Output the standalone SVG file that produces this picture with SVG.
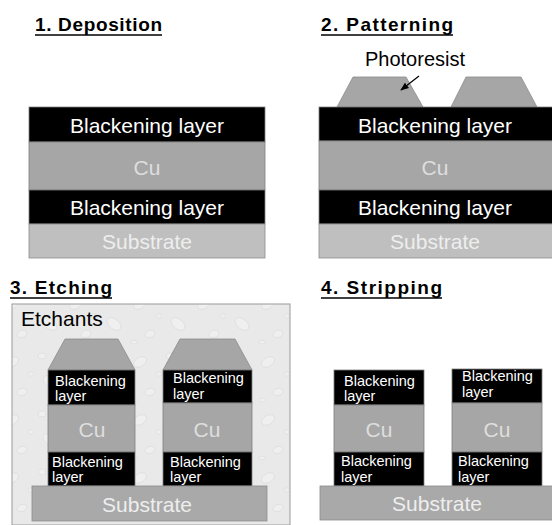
<svg xmlns="http://www.w3.org/2000/svg" width="552" height="525" viewBox="0 0 552 525">
  <style>
    .title { font-family: "Liberation Sans", Arial, sans-serif; font-size: 19px; font-weight: bold; fill: #000; }
    .lbl { font-family: "Liberation Sans", Arial, sans-serif; font-size: 21px; }
    .sm { font-family: "Liberation Sans", Arial, sans-serif; font-size: 14.5px; fill: #fff; }
    .blk { fill: #000; stroke: #7f7f7f; stroke-width: 0.8; }
    .cu { fill: #a6a6a6; stroke: #7f7f7f; stroke-width: 0.8; }
    .sub { fill: #bfbfbf; stroke: #8c8c8c; stroke-width: 0.8; }
    .sub2 { fill: #a9a9a9; stroke: #8c8c8c; stroke-width: 0.8; }
    .pr { fill: #a6a6a6; stroke: #8c8c8c; stroke-width: 0.8; }
    .ul { stroke: #000; stroke-width: 1.5; }
    .w { fill: #fff; }
    .cut { fill: #dedede; }
    .st { fill: #eeeeee; }
    .drop { fill: #efefef; stroke: #d9d9d9; stroke-width: 0.6; }
  </style>
  <defs>
    <marker id="arrow" viewBox="0 0 10 10" refX="9" refY="5" markerWidth="7" markerHeight="7" orient="auto">
      <path d="M0,1 L10,5 L0,9 z" fill="#000"/>
    </marker>
    <!-- droplet texture for the etchant bath -->
    <pattern id="drops" width="64" height="58" patternUnits="userSpaceOnUse">
      <rect width="64" height="58" fill="#e9e9e9"/>
      <ellipse class="drop" cx="12" cy="14" rx="7" ry="4.5" transform="rotate(-30 12 14)"/>
      <ellipse class="drop" cx="42" cy="8" rx="4" ry="3"/>
      <ellipse class="drop" cx="50" cy="34" rx="8" ry="5" transform="rotate(40 50 34)"/>
      <ellipse class="drop" cx="22" cy="44" rx="5" ry="3.5" transform="rotate(-20 22 44)"/>
      <ellipse class="drop" cx="6" cy="52" rx="3" ry="2"/>
      <ellipse class="drop" cx="31" cy="26" rx="3" ry="2.2"/>
    </pattern>
  </defs>

  <!-- 1. Deposition -->
  <g id="step1">
    <text class="title" x="35" y="31" textLength="127" lengthAdjust="spacing">1. Deposition</text>
    <line class="ul" x1="35" y1="35" x2="162" y2="35"/>
    <rect class="blk" x="29" y="107" width="236" height="35"/>
    <rect class="cu" x="29" y="142" width="236" height="48"/>
    <rect class="blk" x="29" y="190" width="236" height="34"/>
    <rect class="sub" x="29" y="224" width="236" height="34"/>
    <text class="lbl w" x="147" y="133" text-anchor="middle">Blackening layer</text>
    <text class="lbl cut" x="147" y="175" text-anchor="middle">Cu</text>
    <text class="lbl w" x="147" y="215" text-anchor="middle">Blackening layer</text>
    <text class="lbl st" x="147" y="249" text-anchor="middle">Substrate</text>
  </g>

  <!-- 2. Patterning -->
  <g id="step2">
    <text class="title" x="321" y="31" textLength="132" lengthAdjust="spacing">2. Patterning</text>
    <line class="ul" x1="321" y1="35" x2="453" y2="35"/>
    <polygon class="pr" points="337,107 353,77 406,77 423,107"/>
    <polygon class="pr" points="451,107 466,77 521,77 537,107"/>
    <rect class="blk" x="319" y="107" width="234" height="34"/>
    <rect class="cu" x="319" y="141" width="234" height="49"/>
    <rect class="blk" x="319" y="190" width="234" height="34"/>
    <rect class="sub" x="319" y="224" width="234" height="34"/>
    <text class="lbl" x="415" y="66" text-anchor="middle" fill="#000" style="font-size:20px">Photoresist</text>
    <text class="lbl w" x="435" y="133" text-anchor="middle">Blackening layer</text>
    <text class="lbl cut" x="435" y="175" text-anchor="middle">Cu</text>
    <text class="lbl w" x="435" y="215" text-anchor="middle">Blackening layer</text>
    <text class="lbl st" x="435" y="249" text-anchor="middle">Substrate</text>
  </g>

  <!-- 3. Etching -->
  <g id="step3">
    <text class="title" x="10" y="294" textLength="102" lengthAdjust="spacing">3. Etching</text>
    <line class="ul" x1="10" y1="298" x2="112" y2="298"/>
    <rect x="12" y="304" width="278" height="221" fill="url(#drops)" stroke="#9a9a9a" stroke-width="1"/>
    <text class="lbl" x="21" y="326" fill="#000">Etchants</text>
    <!-- left pillar -->
    <polygon class="pr" points="48,370 65,339 118,339 135,370"/>
    <rect class="blk" x="48" y="370" width="87" height="35"/>
    <rect class="cu" x="48" y="405" width="87" height="47"/>
    <rect class="blk" x="48" y="452" width="87" height="34"/>
    <!-- right pillar -->
    <polygon class="pr" points="163,370 180,339 235,339 252,370"/>
    <rect class="blk" x="163" y="370" width="89" height="33"/>
    <rect class="cu" x="163" y="403" width="89" height="49"/>
    <rect class="blk" x="163" y="452" width="89" height="34"/>
    <rect class="sub2" x="32" y="486" width="235" height="35"/>
    <text class="sm" x="55" y="386">Blackening</text>
    <text class="sm" x="55" y="401">layer</text>
    <text class="lbl cut" x="92" y="437" text-anchor="middle">Cu</text>
    <text class="sm" x="52" y="467">Blackening</text>
    <text class="sm" x="52" y="482">layer</text>
    <text class="sm" x="173" y="383">Blackening</text>
    <text class="sm" x="173" y="399">layer</text>
    <text class="lbl cut" x="207" y="437" text-anchor="middle">Cu</text>
    <text class="sm" x="170" y="467">Blackening</text>
    <text class="sm" x="170" y="482">layer</text>
    <text class="lbl st" x="147" y="512" text-anchor="middle">Substrate</text>
  </g>

  <!-- 4. Stripping -->
  <g id="step4">
    <text class="title" x="321" y="294" textLength="121" lengthAdjust="spacing">4. Stripping</text>
    <line class="ul" x1="321" y1="298" x2="442" y2="298"/>
    <rect class="blk" x="334" y="370" width="90" height="35"/>
    <rect class="cu" x="334" y="405" width="90" height="47"/>
    <rect class="blk" x="334" y="452" width="90" height="34"/>
    <rect class="blk" x="452" y="369" width="90" height="34"/>
    <rect class="cu" x="452" y="403" width="90" height="49"/>
    <rect class="blk" x="452" y="452" width="90" height="34"/>
    <rect class="sub2" x="320" y="486" width="233" height="34"/>
    <text class="sm" x="344" y="386">Blackening</text>
    <text class="sm" x="344" y="401">layer</text>
    <text class="lbl cut" x="379" y="437" text-anchor="middle">Cu</text>
    <text class="sm" x="341" y="466">Blackening</text>
    <text class="sm" x="341" y="482">layer</text>
    <text class="sm" x="462" y="381">Blackening</text>
    <text class="sm" x="462" y="397">layer</text>
    <text class="lbl cut" x="497" y="437" text-anchor="middle">Cu</text>
    <text class="sm" x="458" y="466">Blackening</text>
    <text class="sm" x="458" y="482">layer</text>
    <text class="lbl st" x="437" y="511" text-anchor="middle">Substrate</text>
  </g>

  <g id="connectors">
    <line x1="419" y1="76" x2="401" y2="90" stroke="#000" stroke-width="1.2" marker-end="url(#arrow)"/>
  </g>
</svg>
